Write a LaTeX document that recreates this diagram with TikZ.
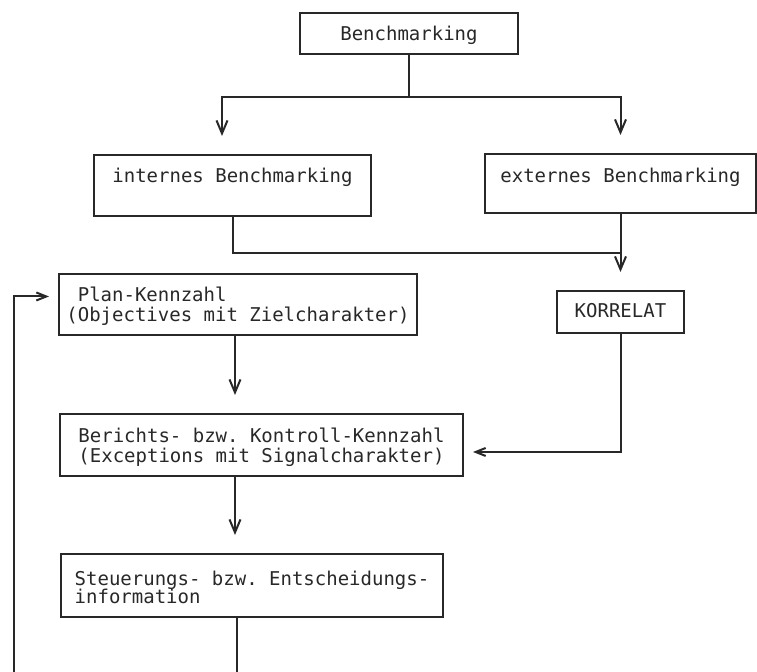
\documentclass[tikz,border=0pt]{standalone}
\usepackage{fontspec}
\setmonofont{DejaVu Sans Mono}
\usepackage{xcolor}
\usepackage{tikz}
\usetikzlibrary{arrows.meta}
\definecolor{ink}{RGB}{40, 40, 40}

\begin{document}
\begin{tikzpicture}[
  x=0.5pt, y=-0.5pt,
  every node/.style = {font=\ttfamily\fontsize{9.5}{10}\selectfont, text=ink},
  blk/.style = {
    rectangle, draw=ink, line width=1pt,
    anchor=north west, align=left,
    inner xsep=0pt, inner ysep=0pt
  },
  arr/.style = {-{Straight Barb[length=6.5pt, width=5.5pt, sep=2.5pt]},
    line width=1pt, draw=ink, shorten >=6.5pt},
  arrh/.style = {-{Straight Barb[length=5pt, width=4pt, sep=1.5pt]},
    line width=1pt, draw=ink, shorten >=3pt},
  wire/.style = {line width=1pt, draw=ink}
]
\useasboundingbox (0,0) rectangle (757,672);

% ---- TOP: Benchmarking and its two kinds ----
\node[blk, minimum width=109pt, text height=14pt, text depth=6.5pt]
  (bench) at (299,12) {Benchmarking};
\node[blk, minimum width=138.5pt, text height=14pt, text depth=16.5pt]
  (intern) at (93,154) {internes Benchmarking};
\node[blk, minimum width=135.5pt, text height=14.5pt, text depth=15pt]
  (extern) at (484,153) {externes Benchmarking};

% ---- MIDDLE: plan figure and correlate ----
\node[blk, minimum width=179pt, text height=24pt, text depth=6.5pt]
  (plan) at (58,273) {\hphantom{(}Plan-Kennzahl\\(Objectives mit Zielcharakter)};
\node[blk, minimum width=63.5pt, text height=13.5pt, text depth=7.5pt]
  (korrelat) at (556,290) {KORRELAT};

% ---- LOWER: report figure and decision ----
\node[blk, minimum width=201.5pt, text height=24.5pt, text depth=6.5pt]
  (berichts) at (59,413) {Berichts- bzw. Kontroll-Kennzahl\\(Exceptions mit Signalcharakter)};
\node[blk, minimum width=191pt, text height=25pt, text depth=6.5pt]
  (steuer) at (60,553) {Steuerungs- bzw. Entscheidungs-\\[-1pt]information};

% ---- Benchmarking splits (bent) ----
\draw[arr] (bench.south) -- ++(0,-21pt) -| ([xshift=-5.25pt]intern.north);
\draw[arr] (bench.south) -- ++(0,-21pt) -| (extern.north);

% ---- intern joins extern, both lead to KORRELAT ----
\coordinate (join) at (620,253);
\draw[wire] (intern.south) |- (join);
\draw[arr] (extern.south) -- (korrelat.north);

% ---- main column ----
\coordinate (spine) at (235,0);
\draw[arr] (plan.south -| spine) -- (berichts.north -| spine);
\draw[arr] (berichts.south -| spine) -- (steuer.north -| spine);
\coordinate (cut) at (237,672);
\draw[wire] (steuer.south -| cut) -- (cut);

% ---- KORRELAT back into report figure ----
\draw[arrh] (korrelat.south) |- ([yshift=-3.5pt]berichts.east);

% ---- feedback loop on the left ----
\coordinate (loop) at (14,672);
\draw[arrh] (loop) |- ([yshift=4pt]plan.west);

\end{tikzpicture}
\end{document}
